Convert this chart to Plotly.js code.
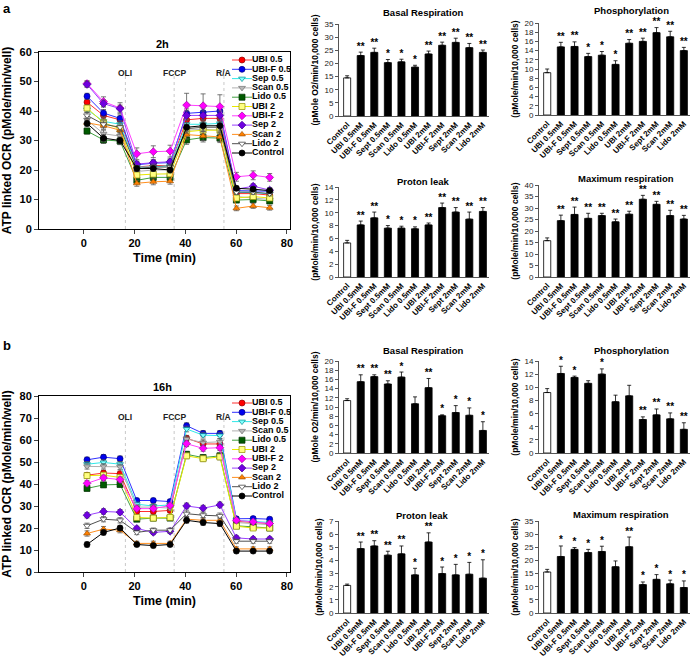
<!DOCTYPE html>
<html><head><meta charset="utf-8">
<script src="https://cdn.plot.ly/plotly-3.0.1.min.js"></script>
<style>html,body{margin:0;padding:0;background:#fff}#chart{width:700px;height:657px}</style>
</head><body><div id="chart"></div>
<script>
// ---------- line charts data ----------
const times = [1.3, 7.8, 14.3, 20.9, 27.4, 34.0, 40.5, 47.0, 53.6, 60.1, 66.7, 73.2];
const injectionTimes = [16.4, 35.6, 55.2];
const injectionLabels = ['OLI', 'FCCP', 'R/A'];
const seriesNames = ['UBI 0.5','UBI-F 0.5','Sep 0.5','Scan 0.5','Lido 0.5','UBI 2','UBI-F 2','Sep 2','Scan 2','Lido 2','Control'];

// 2h
const a_UBI05   = [43.0, 38.5, 37.0, 21.0, 21.5, 21.5, 37.0, 37.5, 37.5, 12.0, 12.0, 11.5];
const a_UBIF05  = [45.0, 39.3, 37.5, 21.8, 22.3, 22.5, 39.2, 39.5, 40.0, 13.0, 13.0, 12.8];
const a_Sep05   = [40.5, 36.5, 35.5, 21.0, 21.0, 21.5, 35.5, 35.5, 35.8, 12.5, 12.3, 12.0];
const a_Scan05  = [37.0, 32.3, 31.5, 19.5, 20.0, 20.0, 33.5, 33.8, 33.5, 11.0, 10.5, 10.0];
const a_Lido05  = [33.2, 30.2, 29.8, 16.5, 17.5, 17.5, 30.2, 31.0, 30.8, 9.8, 10.0, 9.5];
const a_UBI2    = [41.0, 36.0, 34.0, 18.3, 18.6, 18.7, 33.0, 33.5, 33.5, 10.5, 11.0, 10.5];
const a_UBIF2   = [49.3, 43.2, 41.0, 25.5, 26.2, 26.4, 42.0, 41.8, 41.5, 17.7, 18.2, 17.5];
const a_Sep2    = [49.0, 42.5, 40.8, 22.0, 22.5, 22.8, 38.5, 38.5, 38.5, 13.5, 14.5, 13.2];
const a_Scan2   = [36.0, 35.0, 33.5, 15.5, 16.0, 16.2, 32.0, 31.5, 31.2, 7.0, 7.8, 7.2];
const a_Lido2   = [38.5, 35.5, 34.5, 20.5, 21.0, 21.0, 34.0, 34.5, 34.5, 12.5, 12.5, 12.0];
const a_Control = [35.8, 30.8, 30.0, 20.5, 20.5, 20.0, 34.5, 35.0, 35.0, 13.8, 13.5, 13.0];
const errA       = [1.0, 1.2, 1.2, 1.0, 1.0, 1.0, 1.5, 1.5, 1.5, 0.8, 0.8, 0.8];
const errA_UBIF2 = [1.0, 1.6, 1.8, 2.0, 2.0, 2.0, 4.0, 4.0, 4.0, 1.5, 1.5, 1.3];

// 16h
const b_UBI05   = [44.0, 45.0, 44.7, 27.5, 27.5, 28.0, 60.8, 58.2, 58.2, 23.0, 22.5, 22.0];
const b_UBIF05  = [51.0, 52.2, 51.5, 32.5, 32.5, 32.0, 66.5, 63.0, 63.0, 24.2, 24.3, 24.0];
const b_Sep05   = [49.0, 49.8, 49.0, 30.8, 30.0, 30.5, 65.0, 62.2, 62.0, 23.5, 23.0, 22.5];
const b_Scan05  = [48.0, 48.0, 47.8, 29.5, 29.5, 29.0, 60.5, 58.8, 59.2, 22.5, 22.0, 21.5];
const b_Lido05  = [38.0, 39.6, 39.8, 24.0, 24.5, 24.5, 53.5, 52.0, 52.8, 21.0, 20.5, 20.0];
const b_UBI2    = [43.8, 44.0, 43.0, 24.8, 24.5, 24.8, 52.8, 51.5, 52.3, 20.8, 20.0, 20.0];
const b_UBIF2   = [40.3, 42.8, 42.0, 28.8, 28.8, 30.2, 58.3, 56.2, 56.5, 23.5, 22.8, 22.0];
const b_Sep2    = [25.8, 27.5, 27.2, 19.8, 18.0, 18.5, 30.0, 29.0, 30.5, 15.5, 15.0, 15.0];
const b_Scan2   = [17.5, 19.5, 19.0, 13.0, 13.0, 13.0, 24.0, 23.5, 23.5, 10.5, 10.5, 10.5];
const b_Lido2   = [21.0, 24.0, 23.5, 18.0, 19.0, 19.0, 26.5, 25.8, 25.5, 14.0, 14.0, 14.0];
const b_Control = [12.5, 18.0, 20.0, 12.5, 12.0, 12.5, 23.5, 22.5, 22.0, 9.5, 9.5, 9.5];
const errB      = [1.2, 1.2, 1.2, 1.0, 1.0, 1.0, 1.3, 1.3, 1.3, 0.9, 0.9, 0.9];

// ---------- bar charts data ----------
const categories = ['Control','UBI 0.5mM','UBI-F 0.5mM','Sept 0.5mM','Scan 0.5mM','Lido 0.5mM','UBI 2mM','UBI-F 2mM','Sept 2mM','Scan 2mM','Lido 2mM'];

const a_basal     = [14.5, 23.0, 24.2, 20.3, 20.6, 18.6, 23.6, 26.9, 28.0, 26.0, 24.2];
const a_basalErr  = [0.8, 1.3, 1.6, 1.2, 1.0, 0.7, 1.1, 1.2, 1.6, 1.6, 0.9];
const a_basalSig  = ['', '**', '**', '*', '*', '*', '**', '**', '**', '**', '**'];
const a_phos      = [9.2, 14.8, 14.9, 12.7, 13.0, 11.0, 15.6, 16.0, 17.9, 17.0, 14.0];
const a_phosErr   = [0.8, 1.0, 1.0, 0.7, 0.8, 0.8, 0.8, 0.7, 1.1, 1.2, 0.7];
const a_phosSig   = ['', '**', '**', '*', '*', '*', '**', '**', '**', '**', '**'];
const a_leak      = [5.3, 8.1, 9.2, 7.6, 7.6, 7.5, 8.1, 10.8, 10.1, 9.0, 10.2];
const a_leakErr   = [0.4, 0.6, 0.9, 0.4, 0.3, 0.3, 0.3, 0.7, 0.7, 1.1, 0.6];
const a_leakSig   = ['', '**', '**', '*', '*', '*', '**', '**', '**', '**', '**'];
const a_max       = [15.8, 24.5, 27.2, 25.5, 26.7, 24.0, 27.3, 33.8, 31.6, 26.7, 25.2];
const a_maxErr    = [1.2, 2.4, 3.2, 2.2, 1.0, 1.2, 1.3, 1.7, 1.3, 2.3, 1.6];
const a_maxSig    = ['', '**', '**', '**', '**', '**', '**', '**', '**', '**', '**'];

const b_basal     = [11.4, 15.5, 16.6, 15.0, 16.5, 10.7, 14.2, 8.1, 8.8, 8.2, 4.9];
const b_basalErr  = [0.4, 1.5, 0.4, 0.7, 1.1, 1.5, 2.0, 0.2, 1.5, 1.6, 1.9];
const b_basalSig  = ['', '**', '**', '**', '*', '', '**', '*', '*', '*', '*'];
const b_phos      = [9.2, 12.1, 11.5, 10.6, 12.0, 7.8, 8.7, 5.1, 5.8, 5.2, 3.6];
const b_phosErr   = [0.6, 1.1, 0.2, 0.4, 0.8, 1.0, 1.6, 0.4, 0.9, 0.9, 1.0];
const b_phosSig   = ['', '*', '*', '', '*', '', '', '**', '**', '**', '**'];
const b_leak      = [2.1, 4.9, 5.1, 4.4, 4.5, 2.9, 5.4, 3.0, 2.9, 2.95, 2.65];
const b_leakErr   = [0.1, 0.5, 0.4, 0.3, 0.6, 0.5, 0.7, 0.5, 0.8, 0.9, 1.4];
const b_leakSig   = ['', '**', '**', '**', '**', '*', '**', '*', '*', '*', '*'];
const b_max       = [15.6, 21.5, 24.2, 23.0, 23.4, 17.6, 25.2, 10.8, 12.8, 11.1, 9.7];
const b_maxErr    = [1.0, 4.0, 0.7, 1.2, 2.0, 2.2, 3.7, 1.0, 1.8, 1.4, 2.5];
const b_maxSig    = ['', '*', '*', '*', '*', '', '**', '*', '*', '*', '*'];

// ---------- styles ----------
const FONT = 'Arial, "Liberation Sans", sans-serif';
const styles = [
  {line:'#ff3030', fill:'#ff0000', edge:'#900000', symbol:'circle'},
  {line:'#3030ff', fill:'#0000ee', edge:'#000080', symbol:'circle'},
  {line:'#30e8e8', fill:'#80ffff', edge:'#009090', symbol:'triangle-down'},
  {line:'#b0b0b0', fill:'#b8b8b8', edge:'#707070', symbol:'triangle-down'},
  {line:'#40a040', fill:'#005a00', edge:'#003000', symbol:'square'},
  {line:'#e8e800', fill:'#ffff80', edge:'#909000', symbol:'square'},
  {line:'#ff40ff', fill:'#ff00ff', edge:'#a000a0', symbol:'diamond'},
  {line:'#9a40ff', fill:'#7000e0', edge:'#400090', symbol:'diamond'},
  {line:'#ff9020', fill:'#ff8000', edge:'#a05000', symbol:'triangle-up'},
  {line:'#505050', fill:'#ffffff', edge:'#303030', symbol:'triangle-down'},
  {line:'#000000', fill:'#000000', edge:'#000000', symbol:'circle'}
];

const fx = p => p / 700;
const fy = p => 1 - p / 657;

const traces = [];
const layout = {
  width: 700, height: 657, margin: {l:0, r:0, t:0, b:0}, showlegend: false,
  paper_bgcolor: '#fff', plot_bgcolor: 'rgba(0,0,0,0)',
  font: {family: FONT, color: '#000'},
  annotations: [], shapes: []
};

function addAnn(text, xpx, ypx, size, extra) {
  layout.annotations.push(Object.assign({
    text: text, xref: 'paper', yref: 'paper', x: fx(xpx), y: fy(ypx),
    showarrow: false, font: {family: FONT, size: size, color: '#000'},
    xanchor: 'center', yanchor: 'middle'
  }, extra || {}));
}

// ---------- line panels ----------
const linePanels = [
  {ax:'', top:52, bot:229, ymax:60, title:'2h', titleY:44, label:'a', labelY:8,
   data:[a_UBI05,a_UBIF05,a_Sep05,a_Scan05,a_Lido05,a_UBI2,a_UBIF2,a_Sep2,a_Scan2,a_Lido2,a_Control],
   errs:[errA,errA,errA,errA,errA,errA,errA_UBIF2,errA,errA,errA,errA], leg:'11', legTop:60},
  {ax:'2', top:396, bot:572, ymax:80, title:'16h', titleY:387, label:'b', labelY:345,
   data:[b_UBI05,b_UBIF05,b_Sep05,b_Scan05,b_Lido05,b_UBI2,b_UBIF2,b_Sep2,b_Scan2,b_Lido2,b_Control],
   errs:[errB,errB,errB,errB,errB,errB,errB,errB,errB,errB,errB], leg:'12', legTop:403}
];
const LX0 = 39, LX1 = 290;

linePanels.forEach(p => {
  const xa = 'x' + p.ax, ya = 'y' + p.ax;
  p.data.forEach((vals, i) => {
    const s = styles[i];
    traces.push({
      type: 'scatter', mode: 'lines+markers', x: times, y: vals, xaxis: xa, yaxis: ya,
      name: seriesNames[i],
      line: {color: s.line, width: 1},
      marker: {symbol: s.symbol, size: 6, color: s.fill, line: {color: s.edge, width: 0.7}},
      error_y: {type: 'data', array: p.errs[i], color: '#555', thickness: 0.8, width: 2.5}
    });
  });
  layout['xaxis' + p.ax] = {
    domain: [fx(LX0), fx(LX1)], range: [-17.6, 81.2], tickvals: [0, 20, 40, 60, 80],
    ticks: 'outside', ticklen: 4, tickwidth: 1, showline: true, mirror: true, linecolor: '#000', linewidth: 1,
    showgrid: false, zeroline: false, anchor: ya,
    tickfont: {family: FONT, size: 11, weight: 'bold'},
    title: {text: '<b>Time (min)</b>', font: {family: FONT, size: 12.5}, standoff: 5}
  };
  layout['yaxis' + p.ax] = {
    domain: [fy(p.bot), fy(p.top)], range: [0, p.ymax], dtick: 10,
    ticks: 'outside', ticklen: 4, tickwidth: 1, showline: true, mirror: true, linecolor: '#000', linewidth: 1,
    showgrid: false, zeroline: false, anchor: xa,
    tickfont: {family: FONT, size: 11, weight: 'bold'},
    title: {text: '<b>ATP linked OCR (pMole/min/well)</b>', font: {family: FONT, size: 12}, standoff: 6}
  };
  injectionTimes.forEach((t, k) => {
    layout.shapes.push({type: 'line', xref: xa, yref: ya + ' domain', x0: t, x1: t, y0: 0, y1: 0.88,
      line: {color: '#c8c8c8', width: 1, dash: 'dot'}, layer: 'below'});
    layout.annotations.push({text: '<b>' + injectionLabels[k] + '</b>', xref: xa, yref: ya + ' domain',
      x: t, y: 0.92, showarrow: false, font: {family: FONT, size: 8.5, color: '#222'}});
  });
  addAnn('<b>' + p.title + '</b>', 162, p.titleY, 11);
  addAnn('<b>' + p.label + '</b>', 7, p.labelY, 13);

  // custom legend in its own axes
  const lx = 'x' + p.leg, ly = 'y' + p.leg;
  const rowH = 9.3;
  layout['xaxis' + p.leg] = {domain: [fx(231), fx(300)], range: [0, 69], visible: false, fixedrange: true, anchor: ly};
  layout['yaxis' + p.leg] = {domain: [fy(p.legTop + 10.5 * rowH), fy(p.legTop - 0.5 * rowH)], range: [10.5, -0.5],
    visible: false, fixedrange: true, anchor: lx};
  seriesNames.forEach((nm, i) => {
    const s = styles[i];
    traces.push({type: 'scatter', mode: 'lines', x: [1, 21], y: [i, i], xaxis: lx, yaxis: ly,
      line: {color: s.line, width: 1}, hoverinfo: 'skip'});
    traces.push({type: 'scatter', mode: 'markers', x: [11], y: [i], xaxis: lx, yaxis: ly,
      marker: {symbol: s.symbol, size: 6, color: s.fill, line: {color: s.edge, width: 0.7}}, hoverinfo: 'skip'});
    traces.push({type: 'scatter', mode: 'text', x: [21], y: [i], xaxis: lx, yaxis: ly, text: ['<b>' + nm + '</b>'],
      textposition: 'middle right', textfont: {family: FONT, size: 9, color: '#000'}, hoverinfo: 'skip', cliponaxis: false});
  });
});

// ---------- bar panels ----------
const Y_O2 = '<b>(pMole O2/min/10,000 cells)</b>';
const Y_GEN = '<b>(pMole/min/10,000 cells)</b>';
const barPanels = [
  {v:a_basal, e:a_basalErr, s:a_basalSig, ymax:35, dt:5, t:'Basal Respiration', yt:Y_O2, x0:339, x1:489, top:24, bot:116, tx:423, ty:12},
  {v:a_phos, e:a_phosErr, s:a_phosSig, ymax:20, dt:2, t:'Phosphorylation', yt:Y_GEN, x0:539, x1:690, top:23, bot:115, tx:631, ty:11},
  {v:a_leak, e:a_leakErr, s:a_leakSig, ymax:14, dt:2, t:'Proton leak', yt:Y_GEN, x0:339, x1:489, top:187, bot:277, tx:423, ty:181},
  {v:a_max, e:a_maxErr, s:a_maxSig, ymax:40, dt:5, t:'Maximum respiration', yt:Y_GEN, x0:539, x1:690, top:185, bot:277, tx:626, ty:178},
  {v:b_basal, e:b_basalErr, s:b_basalSig, ymax:20, dt:2, t:'Basal Respiration', yt:Y_O2, x0:339, x1:489, top:361, bot:453, tx:423, ty:350},
  {v:b_phos, e:b_phosErr, s:b_phosSig, ymax:14, dt:2, t:'Phosphorylation', yt:Y_GEN, x0:539, x1:690, top:361, bot:453, tx:631, ty:350},
  {v:b_leak, e:b_leakErr, s:b_leakSig, ymax:7, dt:1, t:'Proton leak', yt:Y_GEN, x0:339, x1:489, top:521, bot:613, tx:422, ty:515},
  {v:b_max, e:b_maxErr, s:b_maxSig, ymax:35, dt:5, t:'Maximum respiration', yt:Y_GEN, x0:539, x1:690, top:521, bot:613, tx:621, ty:514}
];

barPanels.forEach((p, k) => {
  const n = String(k + 3);
  const xa = 'x' + n, ya = 'y' + n;
  traces.push({
    type: 'bar', x: categories, y: p.v, xaxis: xa, yaxis: ya, width: 0.52,
    marker: {color: categories.map(c => c === 'Control' ? '#ffffff' : '#000000'), line: {color: '#000', width: 0.8}},
    error_y: {type: 'data', symmetric: false, array: p.e, arrayminus: p.e.map(() => 0), color: '#000', thickness: 0.8, width: 2}
  });
  traces.push({
    type: 'scatter', mode: 'text', x: categories, y: p.v.map((v, i) => v + p.e[i]), text: p.s,
    xaxis: xa, yaxis: ya, textposition: 'top center', cliponaxis: false,
    textfont: {family: FONT, size: 10, color: '#000', weight: 'bold'}, hoverinfo: 'skip'
  });
  layout['xaxis' + n] = {
    domain: [fx(p.x0), fx(p.x1)], type: 'category', range: [-0.6, 10.45], anchor: ya,
    showline: true, linecolor: '#555', linewidth: 1, ticks: '', showgrid: false, zeroline: false,
    tickangle: -45, tickfont: {family: FONT, size: 8, weight: 'bold', color: '#000'}
  };
  layout['yaxis' + n] = {
    domain: [fy(p.bot), fy(p.top)], range: [0, p.ymax], dtick: p.dt, anchor: xa,
    showline: true, linecolor: '#555', linewidth: 1, ticks: 'outside', ticklen: 3, tickcolor: '#555',
    showgrid: false, zeroline: false, tickfont: {family: FONT, size: 8, color: '#222'},
    title: {text: p.yt, font: {family: FONT, size: 8.5}, standoff: 4}
  };
  addAnn('<b>' + p.t + '</b>', p.tx, p.ty, 9.5);
});

Plotly.newPlot('chart', traces, layout, {staticPlot: true, displayModeBar: false});
</script>
</body></html>
